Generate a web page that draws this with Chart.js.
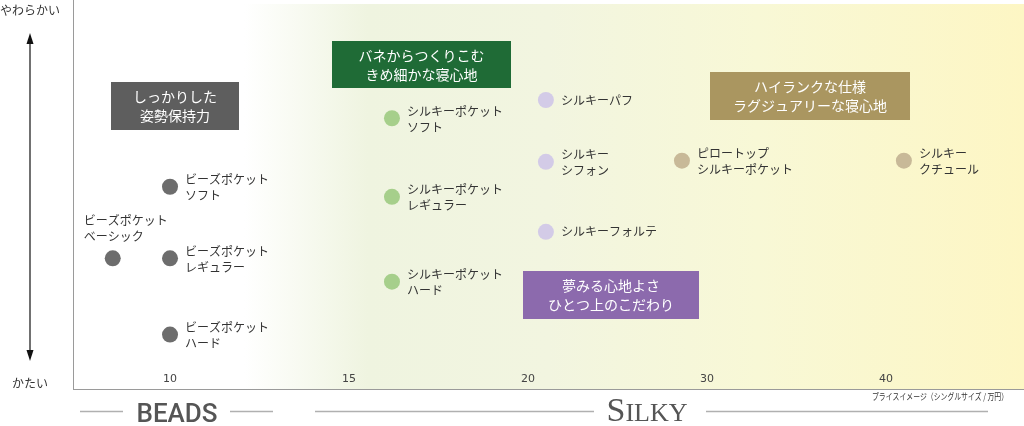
<!DOCTYPE html>
<html><head><meta charset="utf-8">
<script src="https://cdn.jsdelivr.net/npm/chart.js@4/dist/chart.umd.min.js"></script>
<style>html,body{margin:0;padding:0;background:#fff;overflow:hidden}#wrap{width:1024px;height:426px;position:relative}canvas{display:block}</style>
</head><body><div id="wrap"><canvas id="c"></canvas></div>
<script>
// ---- data ----
const priceTicks = [10, 15, 20, 30, 40];
const tickLabels = ['10', '15', '20', '30', '40'];

const beadsNames = ['ビーズポケット\nベーシック', 'ビーズポケット\nソフト', 'ビーズポケット\nレギュラー', 'ビーズポケット\nハード'];
const beadsPrice = [8.4, 10, 10, 10];
const beadsSoft = [33.6, 52, 33.6, 14];

const pocketNames = ['シルキーポケット\nソフト', 'シルキーポケット\nレギュラー', 'シルキーポケット\nハード'];
const pocketPrice = [16.2, 16.2, 16.2];
const pocketSoft = [69.6, 49.4, 27.6];

const silkyNames = ['シルキーパフ', 'シルキー\nシフォン', 'シルキーフォルテ'];
const silkyPrice = [21, 21, 21];
const silkySoft = [74.3, 58.4, 40.4];

const luxuryNames = ['ピロートップ\nシルキーポケット', 'シルキー\nクチュール'];
const luxuryPrice = [28.6, 41];
const luxurySoft = [58.7, 58.7];

const calloutTexts = ['しっかりした\n姿勢保持力', 'バネからつくりこむ\nきめ細かな寝心地', '夢みる心地よさ\nひとつ上のこだわり', 'ハイランクな仕様\nラグジュアリーな寝心地'];
const yTopLabel = 'やわらかい';
const yBottomLabel = 'かたい';
const xAxisTitle = 'プライスイメージ（シングルサイズ / 万円）';
const brandBeads = 'BEADS';
const brandSilky = 'SILKY';

// price -> position along the (non-uniform) price axis
function pricePos(p) {
  const t = priceTicks, n = t.length - 1;
  if (p <= t[0]) return (p - t[0]) / (t[1] - t[0]);
  for (let i = 0; i < n; i++) if (p <= t[i + 1]) return i + (p - t[i]) / (t[i + 1] - t[i]);
  return n + (p - t[n]) / (t[n] - t[n - 1]);
}
function pts(prices, soft, names) {
  return prices.map((p, i) => ({ x: pricePos(p), y: soft[i], name: names[i] }));
}

const JP = '"Noto Sans CJK JP", "Noto Sans", sans-serif';

const bgPlugin = {
  id: 'bg',
  beforeDraw(chart) {
    const { ctx, chartArea: a } = chart;
    const g = ctx.createLinearGradient(a.left, 0, a.right, 0);
    g.addColorStop(0, '#ffffff');
    g.addColorStop(0.18, '#ffffff');
    g.addColorStop(0.31, '#eff4e0');
    g.addColorStop(0.5, '#f2f5e0');
    g.addColorStop(0.72, '#f8f8d6');
    g.addColorStop(1, '#fdf6c4');
    ctx.save();
    ctx.fillStyle = g;
    ctx.fillRect(a.left, a.top + 4, a.right - a.left, a.bottom - a.top - 4);
    ctx.restore();
  }
};

const labelPlugin = {
  id: 'pointLabels',
  afterDatasetsDraw(chart) {
    const ctx = chart.ctx;
    ctx.save();
    ctx.font = '12px ' + JP;
    ctx.fillStyle = '#333';
    ctx.textBaseline = 'middle';
    ctx.textAlign = 'left';
    chart.data.datasets.forEach((ds, di) => {
      const meta = chart.getDatasetMeta(di);
      meta.data.forEach((el, i) => {
        const lines = ds.data[i].name.split('\n');
        const above = ds.data[i].name === beadsNames[0];
        let x, y0;
        if (above) { x = el.x - 29; y0 = el.y - 38; }
        else {
          x = el.x + 15;
          y0 = lines.length === 1 ? el.y : el.y - 7;
        }
        lines.forEach((l, k) => ctx.fillText(l, x, y0 + k * 16));
      });
    });
    ctx.restore();
  }
};

const decoPlugin = {
  id: 'deco',
  afterDraw(chart) {
    const ctx = chart.ctx;
    ctx.save();
    // callout boxes
    const boxes = [
      { x: 111, y: 82, w: 128, h: 48, c: '#5e5e5e' },
      { x: 332, y: 41, w: 179, h: 47, c: '#1f6b36' },
      { x: 523, y: 271, w: 176, h: 48, c: '#8c6aad' },
      { x: 710, y: 72, w: 200, h: 48, c: '#aa9660' }
    ];
    ctx.font = '14px ' + JP;
    ctx.textAlign = 'center';
    ctx.textBaseline = 'middle';
    boxes.forEach((b, i) => {
      ctx.fillStyle = b.c;
      ctx.fillRect(b.x, b.y, b.w, b.h);
      ctx.fillStyle = '#ffffff';
      const lines = calloutTexts[i].split('\n');
      const cy = b.y + b.h / 2;
      ctx.fillText(lines[0], b.x + b.w / 2, cy - 9);
      ctx.fillText(lines[1], b.x + b.w / 2, cy + 10);
    });
    // y labels
    ctx.fillStyle = '#333';
    ctx.font = '12px ' + JP;
    ctx.fillText(yTopLabel, 30, 10);
    ctx.fillText(yBottomLabel, 30, 383);
    // arrow
    ctx.strokeStyle = '#111';
    ctx.lineWidth = 1.2;
    ctx.beginPath(); ctx.moveTo(30, 40); ctx.lineTo(30, 354); ctx.stroke();
    ctx.fillStyle = '#111';
    ctx.beginPath(); ctx.moveTo(30, 33); ctx.lineTo(26.5, 44); ctx.lineTo(33.5, 44); ctx.closePath(); ctx.fill();
    ctx.beginPath(); ctx.moveTo(30, 361); ctx.lineTo(26.5, 350); ctx.lineTo(33.5, 350); ctx.closePath(); ctx.fill();
    // x axis title
    ctx.fillStyle = '#333';
    ctx.font = '9px ' + JP;
    ctx.textAlign = 'right';
    ctx.fillText(xAxisTitle, 1008, 397, 136);
    // brand lines
    ctx.strokeStyle = '#b0b0b0';
    ctx.lineWidth = 1.5;
    [[80, 123], [230, 273], [315, 594], [706, 988]].forEach(s => {
      ctx.beginPath(); ctx.moveTo(s[0], 411.5); ctx.lineTo(s[1], 411.5); ctx.stroke();
    });
    // BEADS
    ctx.fillStyle = '#555';
    ctx.textAlign = 'center';
    ctx.textBaseline = 'alphabetic';
    ctx.font = '500 26px Roboto, sans-serif';
    ctx.fillText(brandBeads, 177, 422);
    // SILKY (small caps)
    ctx.textAlign = 'left';
    ctx.font = '34px "Liberation Serif", serif';
    const s0 = brandSilky[0];
    const w0 = ctx.measureText(s0).width;
    ctx.font = '26px "Liberation Serif", serif';
    const rest = brandSilky.slice(1);
    const wr = ctx.measureText(rest).width;
    const sx = 647 - (w0 + wr) / 2;
    ctx.fillStyle = '#555';
    ctx.font = '34px "Liberation Serif", serif';
    ctx.fillText(s0, sx, 421);
    ctx.font = '26px "Liberation Serif", serif';
    ctx.fillText(rest, sx + w0, 421);
    ctx.restore();
  }
};

function zeroPad(s) { s.paddingLeft = 0; s.paddingRight = 0; s.paddingTop = 0; s.paddingBottom = 0; }

new Chart(document.getElementById('c'), {
  type: 'scatter',
  data: {
    datasets: [
      { label: 'ビーズポケット', data: pts(beadsPrice, beadsSoft, beadsNames), backgroundColor: '#6d6d6d', borderWidth: 0, pointRadius: 8, pointHoverRadius: 8 },
      { label: 'シルキーポケット', data: pts(pocketPrice, pocketSoft, pocketNames), backgroundColor: '#a6cf8b', borderWidth: 0, pointRadius: 8, pointHoverRadius: 8 },
      { label: 'シルキー', data: pts(silkyPrice, silkySoft, silkyNames), backgroundColor: '#d3cbe7', borderWidth: 0, pointRadius: 8, pointHoverRadius: 8 },
      { label: 'ラグジュアリー', data: pts(luxuryPrice, luxurySoft, luxuryNames), backgroundColor: '#c8b998', borderWidth: 0, pointRadius: 8, pointHoverRadius: 8 }
    ]
  },
  options: {
    responsive: true,
    maintainAspectRatio: false,
    animation: false,
    devicePixelRatio: 1,
    layout: { autoPadding: false, padding: { left: 73, right: 0, top: 0, bottom: 37 } },
    plugins: { legend: { display: false }, tooltip: { enabled: false } },
    scales: {
      x: {
        type: 'linear',
        min: -0.542,
        max: 4.771,
        grid: { display: false, drawTicks: false },
        border: { display: true, color: '#9a9a9a', width: 1 },
        afterBuildTicks(s) { s.ticks = priceTicks.map((_, i) => ({ value: i })); },
        afterFit(s) { s.height = 0; zeroPad(s); },
        ticks: {
          mirror: true,
          padding: 3,
          autoSkip: false,
          maxRotation: 0,
          color: '#444',
          font: { family: '"DejaVu Sans", sans-serif', size: 11 },
          callback: (v, i) => tickLabels[i]
        }
      },
      y: {
        type: 'linear',
        min: 0,
        max: 100,
        grid: { display: false, drawTicks: false },
        border: { display: true, color: '#9a9a9a', width: 1 },
        ticks: { display: false },
        afterFit(s) { s.width = 0; zeroPad(s); }
      }
    }
  },
  plugins: [bgPlugin, labelPlugin, decoPlugin]
});
</script>
</body></html>
